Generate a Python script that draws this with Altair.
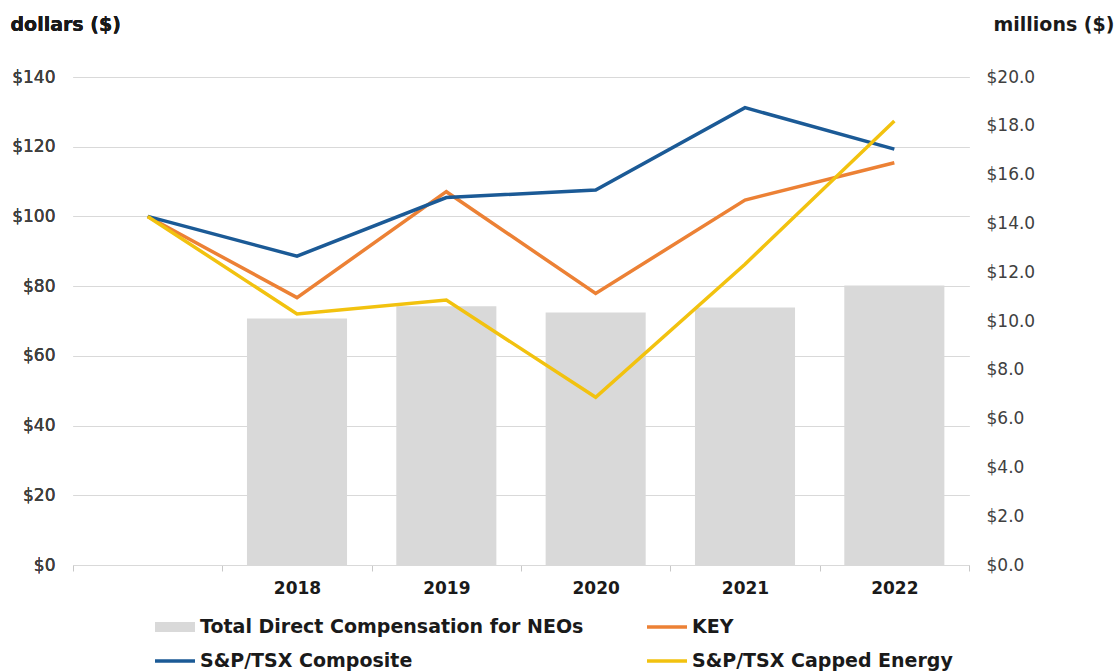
import altair as alt
import pandas as pd

# ---- data ----
years = ["2017", "2018", "2019", "2020", "2021", "2022"]
bar_years = ["2018", "2019", "2020", "2021", "2022"]
comp_millions = [10.10, 10.60, 10.35, 10.55, 11.45]
key_vals = [100, 76.7, 107.1, 77.9, 104.7, 115.4]
composite_vals = [100, 88.6, 105.4, 107.6, 131.2, 119.3]
energy_vals = [100, 72.0, 76.0, 48.1, 86.3, 127.4]
series_names = ["Total Direct Compensation for NEOs", "KEY",
                "S&P/TSX Composite", "S&P/TSX Capped Energy"]
series_colors = ["#D9D9D9", "#EC8135", "#1B5A96", "#F2C20F"]
left_ticks = [0, 20, 40, 60, 80, 100, 120, 140]
right_ticks = [0, 2, 4, 6, 8, 10, 12, 14, 16, 18, 20]

bar_df = pd.DataFrame({"year": bar_years, "millions": comp_millions})
legend_df = pd.DataFrame({"series": series_names})

SWATCH = "M-2,-0.5H2V0.5H-2Z"
LINE = "M-2,-0.17H2V0.17H-2Z"

color_scale = alt.Scale(domain=series_names, range=series_colors)
shape_scale = alt.Scale(domain=series_names, range=[SWATCH, LINE, LINE, LINE])

x_enc = alt.X(
    "year:N",
    scale=alt.Scale(domain=years, paddingInner=0, paddingOuter=0),
    axis=alt.Axis(
        title=None, labelAngle=0, tickBand="extent",
        labelExpr="datum.value == '2017' ? '' : datum.label",
        labelFont="DejaVu Sans", labelFontWeight="bold", labelFontSize=17,
        labelColor="#1a1a1a", labelPadding=9,
        domainColor="#D9D9D9", tickColor="#C8C8C8", tickSize=6, grid=False,
    ),
)

bars = alt.Chart(bar_df).mark_bar(color="#D9D9D9", width=alt.RelativeBandSize(0.67)).encode(
    x=x_enc,
    y=alt.Y(
        "millions:Q",
        scale=alt.Scale(domain=[0, 20], nice=False),
        axis=alt.Axis(
            orient="right", values=right_ticks, grid=False, ticks=False, domain=False,
            labelExpr="'$' + format(datum.value, '.1f')",
            labelFont="DejaVu Sans", labelFontSize=17, labelColor="#404040", labelPadding=17,
            title="millions ($)", titleAngle=0, titleAlign="left", titleBaseline="alphabetic",
            titleX=24, titleY=-47, titleFont="DejaVu Sans", titleFontSize=19,
            titleFontWeight="bold", titleColor="#1a1a1a",
        ),
    ),
)

y_left = alt.Y(
    "value:Q",
    scale=alt.Scale(domain=[0, 140], nice=False),
    axis=alt.Axis(
        orient="left", values=left_ticks, grid=True, gridColor="#D9D9D9",
        ticks=False, domain=False,
        labelExpr="'$' + datum.value",
        labelFont="DejaVu Sans", labelFontSize=17, labelColor="#404040", labelPadding=18,
        title="dollars ($)", titleAngle=0, titleAlign="left", titleBaseline="alphabetic",
        titleX=-63, titleY=-47, titleFont="DejaVu Sans", titleFontSize=19,
        titleFontWeight="bold", titleColor="#1a1a1a",
    ),
)


def line_layer(vals, color):
    df = pd.DataFrame({"year": years, "value": vals})
    return alt.Chart(df).mark_line(strokeWidth=3.5, color=color).encode(x=x_enc, y=y_left)


key_line = line_layer(key_vals, series_colors[1])
comp_line = line_layer(composite_vals, series_colors[2])
energy_line = line_layer(energy_vals, series_colors[3])

legend_props = dict(
    title=None, orient="none", legendX=92, legendY=540, columns=2, direction="horizontal",
    columnPadding=63, rowPadding=14, padding=0,
    symbolSize=400, symbolStrokeWidth=0, labelOffset=15,
    labelFont="DejaVu Sans", labelFontWeight="bold", labelFontSize=19,
    labelColor="#1a1a1a", labelLimit=600,
)

legend_layer = alt.Chart(legend_df).mark_point(
    filled=True, opacity=1, size=0
).encode(
    color=alt.Color("series:N", scale=color_scale, legend=alt.Legend(**legend_props)),
    shape=alt.Shape("series:N", scale=shape_scale, legend=alt.Legend(**legend_props)),
)

chart = alt.layer(bars, key_line, comp_line, energy_line, legend_layer).resolve_scale(
    y="independent"
).properties(
    width=896, height=488,
    padding={"left": 73, "top": 77, "right": 148, "bottom": 107},
    autosize=alt.AutoSizeParams(type="none"),
    background="white",
).configure_view(stroke=None)

chart.save("out.html", embed_options={"renderer": "svg", "actions": False})
